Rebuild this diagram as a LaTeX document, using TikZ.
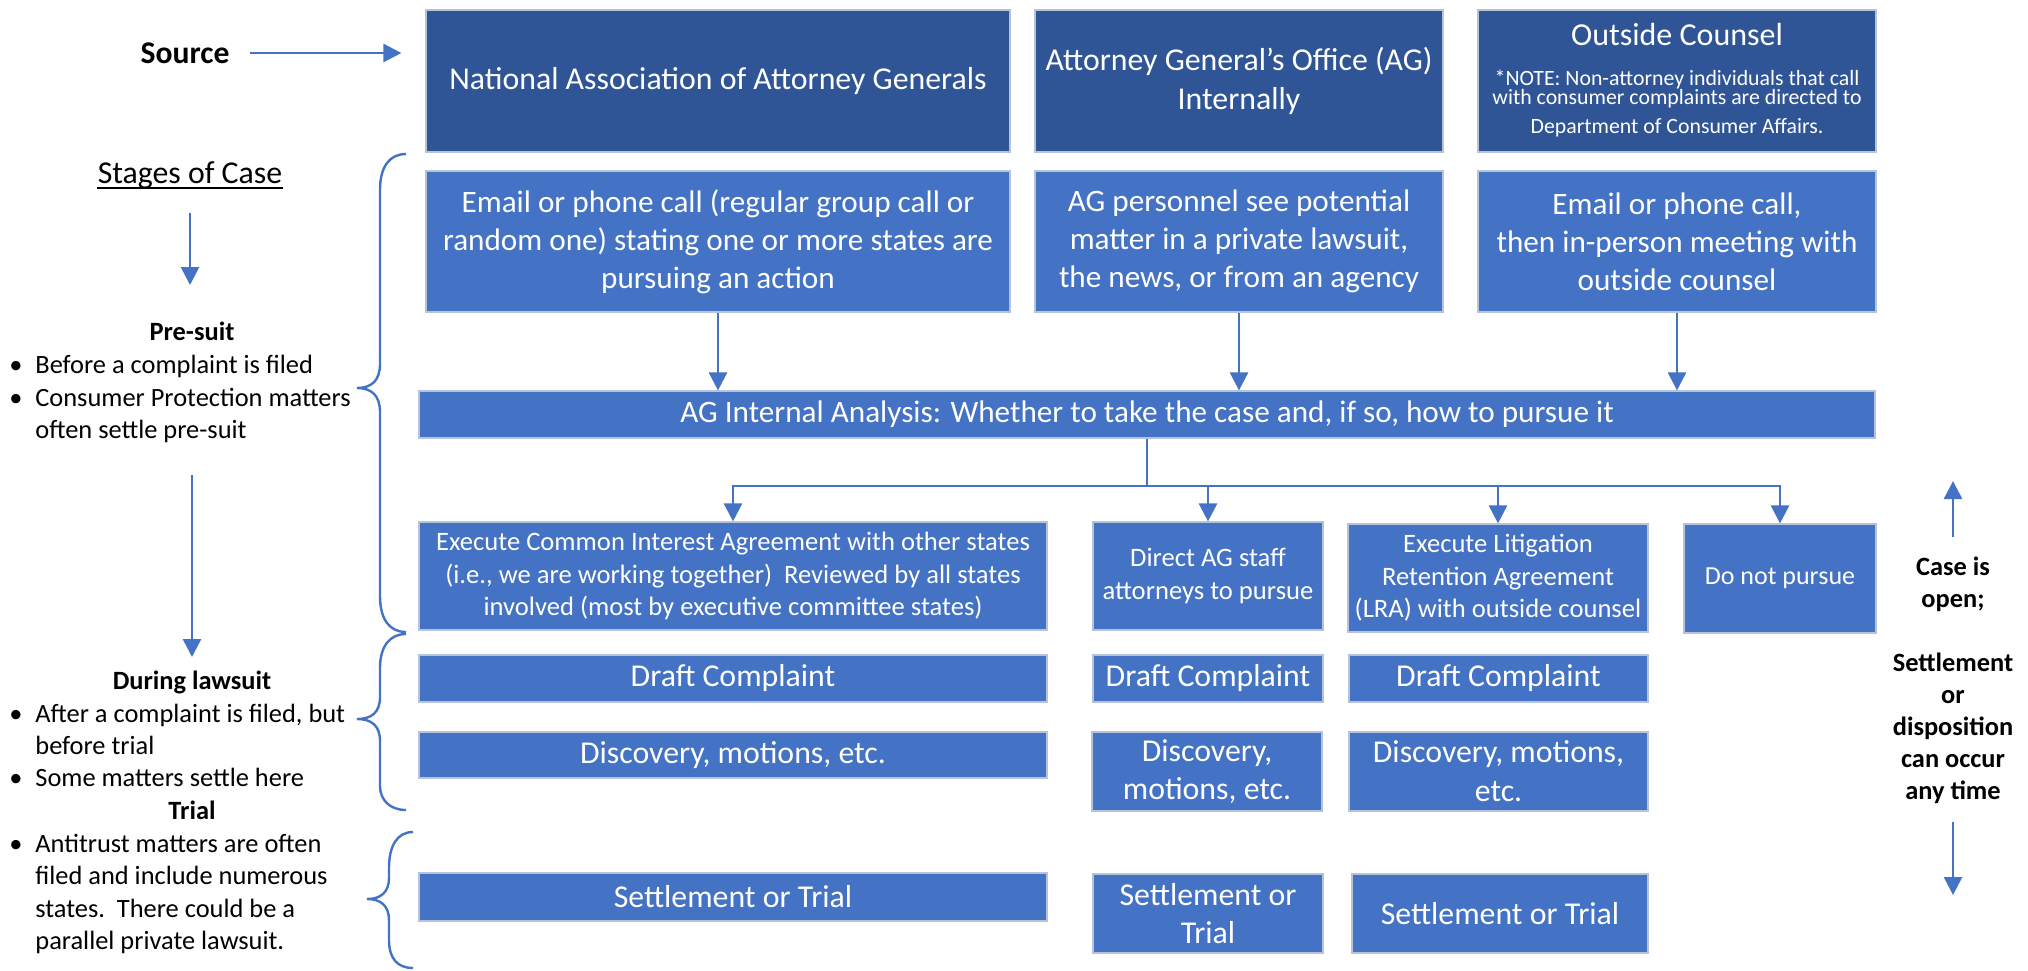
\documentclass[tikz,border=0pt]{standalone}
\usepackage{fontspec}
\setmainfont{Carlito}
\usetikzlibrary{arrows.meta}
\definecolor{darkblue}{HTML}{2F5597}
\definecolor{midblue}{HTML}{4472C4}
\definecolor{edgegray}{HTML}{B7C3D9}
\definecolor{linkblue}{HTML}{4472C4}
\newcommand\setfs[2]{\fontsize{#1}{#2}\selectfont}

\tikzset{
  sz/.style 2 args={minimum width=#1*0.5pt, minimum height=#2*0.5pt},
  box/.style={draw=edgegray, line width=0.6pt, fill=midblue, text=white,
              align=center, inner sep=0pt},
  darkbox/.style={box, fill=darkblue},
  ftop/.style={font=\setfs{15.9pt}{19.4pt}},
  fmid/.style={font=\setfs{15.6pt}{19pt}},
  fsmall/.style={font=\setfs{13.3pt}{16.25pt}},
  fstage/.style={font=\setfs{15.9pt}{19.4pt}},
  fnote/.style={font=\setfs{10.9pt}{11pt}},
  lbl/.style={inner sep=0pt, text=black, font=\setfs{13.2pt}{16.25pt}},
  blbl/.style={lbl, font=\setfs{13.2pt}{16.25pt}\bfseries},
  link/.style={draw=linkblue, line width=1.3pt},
  arr/.style={link, -{Triangle[width=9pt,length=9pt]}},
  bracepath/.style={draw=linkblue, line width=1.2pt},
}

\begin{document}
\begin{tikzpicture}[x=0.5pt, y=-0.5pt]
\useasboundingbox (0,0) rectangle (2028,970);

% ---- source row ----
\node[inner sep=0pt, font=\setfs{15.8pt}{19pt}\bfseries] (src) at (185,53) {Source};
\node[darkbox, sz={584}{142}, ftop] (naag) at (718,81) {National Association of Attorney Generals};
\node[darkbox, sz={408}{142}, ftop] (agoff) at (1239,81) {Attorney General’s Office (AG)\\Internally};
\node[darkbox, sz={398}{142}] (oc) at (1677,81) {};
\node[inner sep=0pt, anchor=base, text=white, font=\setfs{16pt}{19pt}] (octitle) at (1677,45) {Outside Counsel};
\node[inner sep=0pt, anchor=base, text=white, fnote] (ocnote1) at (1677,85) {*NOTE: Non-attorney individuals that call};
\node[inner sep=0pt, anchor=base, text=white, fnote] (ocnote2) at (1677,104) {with consumer complaints are directed to};
\node[inner sep=0pt, anchor=base, text=white, fnote] (ocnote3) at (1677,133) {Department of Consumer Affairs.};
\draw[arr, shorten <=10pt, shorten >=12pt] (src.east) -- (src.east -| naag.west);

% ---- how the matter arrives ----
\node[box, sz={584}{141}, fmid] (r2a) at (718,241.5) {Email or phone call (regular group call or\\random one) stating one or more states are\\pursuing an action};
\node[box, sz={408}{141}, fmid] (r2b) at (1239,241.5) {AG personnel see potential\\matter in a private lawsuit,\\the news, or from an agency};
\node[box, sz={398}{141}, fmid] (r2c) at (1677,241.5) {Email or phone call,\\then in-person meeting with\\outside counsel};

% ---- analysis bar ----
\node[box, sz={1456}{47}, fmid] (ana) at (1147,414.5) {AG Internal Analysis: Whether to take the case and, if so, how to pursue it};
\draw[arr] (r2a.south) -- (r2a.south |- ana.north);
\draw[arr] (r2b.south) -- (r2b.south |- ana.north);
\draw[arr] (r2c.south) -- (r2c.south |- ana.north);

% ---- decision row ----
\node[box, sz={628}{108}, fsmall] (cia) at (733,576) {Execute Common Interest Agreement with other states\\(i.e., we are working together)\ \ Reviewed by all states\\involved (most by executive committee states)};
\node[box, sz={230}{108}, fsmall] (direct) at (1208,576) {Direct AG staff\\attorneys to pursue};
\node[box, sz={300}{108}, fsmall] (lra) at (1498,578) {Execute Litigation\\Retention Agreement\\(LRA) with outside counsel};
\node[box, sz={192}{109}, font=\setfs{13pt}{16pt}] (dnp) at (1780,578.5) {Do not pursue};

\coordinate (hub) at (1147,486);
\draw[link] (ana.south) -- (hub);
\draw[arr] (hub) -| (cia.north);
\draw[arr] (hub) -| (direct.north);
\draw[arr] (hub) -| (lra.north);
\draw[arr] (hub) -| (dnp.north);

% ---- litigation steps ----
\node[box, sz={628}{47}, ftop] (d1) at (733,678.5) {Draft Complaint};
\node[box, sz={230}{47}, ftop] (d2) at (1208,678.5) {Draft Complaint};
\node[box, sz={299}{47}, ftop] (d3) at (1498.5,678.5) {Draft Complaint};
\node[box, sz={628}{46}, ftop] (c1) at (733,755) {Discovery, motions, etc.};
\node[box, sz={230}{79}, ftop] (c2) at (1207,771.5) {Discovery,\\motions, etc.};
\node[box, sz={299}{79}, ftop] (c3) at (1498.5,771.5) {Discovery, motions,\\etc.};
\node[box, sz={628}{48}, ftop] (s1) at (733,897) {Settlement or Trial};
\node[box, sz={230}{79}, ftop] (s2) at (1208,913.5) {Settlement or\\Trial};
\node[box, sz={296}{79}, ftop] (s3) at (1500,913.5) {Settlement or Trial};

% ---- stages column ----
\node[inner sep=0pt, anchor=base, fstage] (stages) at (190,183) {Stages of Case};
\draw[line width=0.8pt] ([yshift=-2.5pt]stages.base west) -- ([yshift=-2.5pt]stages.base east);
\coordinate (st1a) at (190,213);
\coordinate (st1b) at (190,285);
\draw[arr] (st1a) -- (st1b);

\node[blbl, anchor=base] (presuit) at (192,340) {Pre-suit};
\node[lbl, anchor=base] (b1) at (16,373) {•};
\node[lbl, anchor=base west] (t1) at (35,373) {Before a complaint is filed};
\node[lbl, anchor=base] (b2) at (16,406) {•};
\node[lbl, anchor=base west] (t2) at (35,406) {Consumer Protection matters};
\node[lbl, anchor=base west] (t2b) at (35,438) {often settle pre-suit};

\coordinate (st2a) at (192,475);
\coordinate (st2b) at (192,657);
\draw[arr] (st2a) -- (st2b);

\node[blbl, anchor=base] (during) at (192,689) {During lawsuit};
\node[lbl, anchor=base] (b3) at (16,722) {•};
\node[lbl, anchor=base west] (t3) at (35,722) {After a complaint is filed, but};
\node[lbl, anchor=base west] (t3b) at (35,754) {before trial};
\node[lbl, anchor=base] (b4) at (16,786) {•};
\node[lbl, anchor=base west] (t4) at (35,786) {Some matters settle here};
\node[blbl, anchor=base] (trial) at (192,819) {Trial};
\node[lbl, anchor=base] (b5) at (16,852) {•};
\node[lbl, anchor=base west] (t5) at (35,852) {Antitrust matters are often};
\node[lbl, anchor=base west] (t5b) at (35,884) {filed and include numerous};
\node[lbl, anchor=base west] (t5c) at (35,917) {states.\ \ There could be a};
\node[lbl, anchor=base west] (t5d) at (35,949) {parallel private lawsuit.};

% ---- braces grouping the rows by stage ----
\draw[bracepath] (406,154) .. controls (390,154) and (380,166) .. (380,190)
  -- (380,364) .. controls (380,380) and (372,388) .. (357,388)
  .. controls (372,388) and (380,396) .. (380,412)
  -- (380,596) .. controls (380,620) and (390,632) .. (406,632);
\draw[bracepath] (406,634) .. controls (390,634) and (380,646) .. (380,668)
  -- (380,697) .. controls (380,712) and (372,719) .. (357,719)
  .. controls (372,719) and (380,726) .. (380,741)
  -- (380,786) .. controls (380,800) and (390,810) .. (406,810);
\draw[bracepath] (413,832) .. controls (397,832) and (389,846) .. (389,868)
  -- (389,878) .. controls (389,892) and (381,899) .. (367,899)
  .. controls (381,899) and (389,906) .. (389,920)
  -- (389,940) .. controls (389,958) and (397,968) .. (413,968);

% ---- right-hand note ----
\coordinate (up1) at (1953,537);
\coordinate (up2) at (1953,481);
\draw[arr] (up1) -- (up2);
\node[blbl, anchor=base] (n1) at (1953,575) {Case is};
\node[blbl, anchor=base] (n2) at (1953,607) {open;};
\node[blbl, anchor=base] (n3) at (1953,671) {Settlement};
\node[blbl, anchor=base] (n4) at (1953,703) {or};
\node[blbl, anchor=base] (n5) at (1953,735) {disposition};
\node[blbl, anchor=base] (n6) at (1953,767) {can occur};
\node[blbl, anchor=base] (n7) at (1953,799) {any time};
\coordinate (dn1) at (1953,822);
\coordinate (dn2) at (1953,895);
\draw[arr] (dn1) -- (dn2);
\end{tikzpicture}
\end{document}
